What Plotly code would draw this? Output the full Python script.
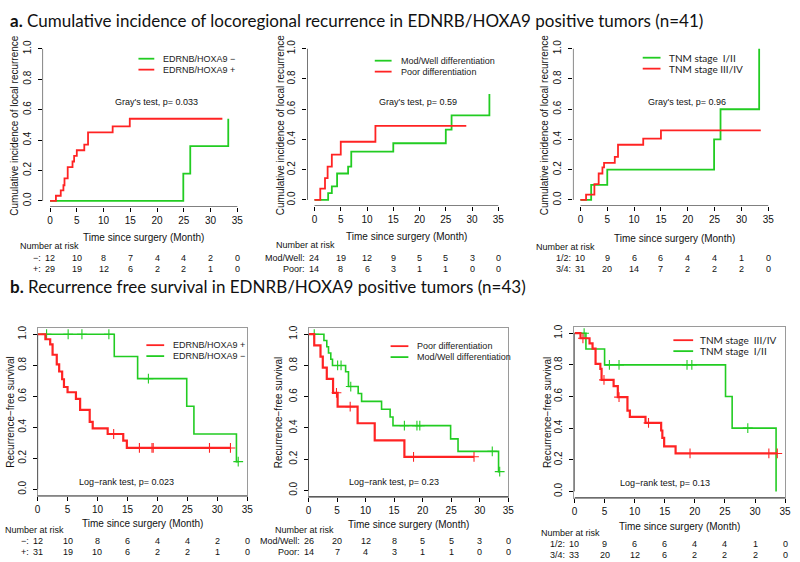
import plotly.graph_objects as go

W, H = 800, 562

# ---------------- data ----------------
# Panel a1: cumulative incidence, EDNRB/HOXA9 status
a1_neg_t = [0, 24.9, 26.2, 33.3]
a1_neg_v = [0, 0.18, 0.36, 0.54]
a1_pos_t = [0, 1.1, 2.0, 2.5, 2.7, 3.3, 4.2, 4.5, 5.0, 6.4, 7.1, 11.7, 14.9, 32.2]
a1_pos_v = [0, 0.034, 0.069, 0.103, 0.148, 0.222, 0.259, 0.296, 0.333, 0.37, 0.45, 0.49, 0.54, 0.54]

# Panel a2: differentiation
a2_mw_t = [0, 2.6, 3.3, 4.3, 6.4, 7.0, 15.0, 25.0, 26.1, 33.3]
a2_mw_v = [0, 0.045, 0.09, 0.175, 0.22, 0.32, 0.375, 0.465, 0.56, 0.70]
a2_poor_t = [0, 1.1, 2.0, 2.5, 3.3, 5.0, 11.6, 28.9]
a2_poor_v = [0, 0.075, 0.145, 0.22, 0.30, 0.385, 0.49, 0.49]

# Panel a3: TNM stage
a3_s12_t = [0, 2.0, 5.0, 24.9, 26.1, 33.3]
a3_s12_v = [0, 0.10, 0.20, 0.40, 0.60, 1.0]
a3_s34_t = [0, 1.05, 2.6, 3.4, 4.1, 4.4, 6.4, 7.0, 11.7, 15.0, 33.6]
a3_s34_v = [0, 0.035, 0.105, 0.175, 0.215, 0.245, 0.285, 0.365, 0.405, 0.46, 0.46]

# Panel b1: recurrence-free survival, EDNRB/HOXA9 status
b1_pos_t = [0, 1.3, 2.1, 2.5, 3.2, 3.6, 4.1, 4.4, 5.0, 6.4, 7.1, 8.7, 9.2, 11.7, 14.3, 14.9, 32.2]
b1_pos_v = [1, 0.968, 0.935, 0.868, 0.806, 0.76, 0.71, 0.66, 0.626, 0.584, 0.512, 0.435, 0.393, 0.357, 0.314, 0.267, 0.267]
b1_pos_ct = [12.7, 17.0, 19.1, 19.3, 28.7, 32.2]
b1_pos_cv = [0.357, 0.267, 0.267, 0.267, 0.267, 0.267]
b1_neg_t = [0, 12.8, 16.7, 24.9, 26.1, 33.2, 33.5]
b1_neg_v = [1, 0.857, 0.714, 0.536, 0.357, 0.179, 0.179]
b1_neg_ct = [1.5, 5.1, 7.4, 11.9, 18.5, 33.5]
b1_neg_cv = [1, 1, 1, 1, 0.714, 0.179]

# Panel b2: differentiation
b2_poor_t = [0, 1.0, 2.1, 2.5, 3.2, 4.3, 5.1, 8.6, 11.6, 16.8, 29.0]
b2_poor_v = [1, 0.929, 0.857, 0.786, 0.714, 0.625, 0.536, 0.43, 0.32, 0.215, 0.215]
b2_poor_ct = [4.9, 7.3, 18.4, 29.0]
b2_poor_cv = [0.625, 0.536, 0.215, 0.215]
b2_mw_t = [0, 2.7, 3.2, 3.5, 3.9, 4.2, 6.5, 7.0, 8.7, 9.3, 12.8, 14.3, 14.8, 24.9, 26.2, 33.3, 33.5]
b2_mw_v = [1, 0.96, 0.92, 0.88, 0.84, 0.80, 0.76, 0.665, 0.62, 0.57, 0.52, 0.47, 0.415, 0.33, 0.25, 0.12, 0.12]
b2_mw_ct = [1.0, 5.1, 5.7, 7.4, 16.8, 19.0, 19.5, 32.2, 33.5]
b2_mw_cv = [1, 0.80, 0.80, 0.665, 0.415, 0.415, 0.415, 0.25, 0.12]

# Panel b3: TNM stage
b3_s34_t = [0, 1.0, 2.5, 3.0, 3.5, 4.3, 4.5, 6.5, 7.2, 8.8, 9.2, 11.8, 14.4, 14.6, 14.9, 16.8, 33.7]
b3_s34_v = [1, 0.968, 0.935, 0.903, 0.806, 0.774, 0.705, 0.666, 0.596, 0.511, 0.471, 0.433, 0.385, 0.338, 0.285, 0.24, 0.24]
b3_s34_ct = [1.4, 4.9, 7.4, 12.3, 19.2, 32.3, 33.7]
b3_s34_cv = [0.968, 0.705, 0.596, 0.433, 0.24, 0.24, 0.24]
b3_s12_t = [0, 1.9, 5.0, 25.1, 26.2, 33.5]
b3_s12_v = [1, 0.9, 0.8, 0.6, 0.4, 0.0]
b3_s12_ct = [1.6, 5.8, 7.4, 18.7, 19.5, 28.8]
b3_s12_cv = [1, 0.8, 0.8, 0.8, 0.8, 0.4]

# Numbers at risk (at months 0,5,...,35)
risk_times = [0, 5, 10, 15, 20, 25, 30, 35]
a1_risk_labels = ["−:", "+:"]
a1_risk = [[12, 10, 8, 7, 4, 4, 2, 0], [29, 19, 12, 6, 2, 2, 1, 0]]
a2_risk_labels = ["Mod/Well:", "Poor:"]
a2_risk = [[24, 19, 12, 9, 5, 5, 3, 0], [14, 8, 6, 3, 1, 1, 0, 0]]
a3_risk_labels = ["1/2:", "3/4:"]
a3_risk = [[10, 9, 6, 6, 4, 4, 1, 0], [31, 20, 14, 7, 2, 2, 2, 0]]
b1_risk_labels = ["−:", "+:"]
b1_risk = [[12, 10, 8, 6, 4, 4, 2, 0], [31, 19, 10, 6, 2, 2, 1, 0]]
b2_risk_labels = ["Mod/Well:", "Poor:"]
b2_risk = [[26, 20, 12, 8, 5, 5, 3, 0], [14, 7, 4, 3, 1, 1, 0, 0]]
b3_risk_labels = ["1/2:", "3/4:"]
b3_risk = [[10, 9, 6, 6, 4, 4, 1, 0], [33, 20, 12, 6, 2, 2, 2, 0]]

x_ticks = [0, 5, 10, 15, 20, 25, 30, 35]
y_ticks = [0, 0.2, 0.4, 0.6, 0.8, 1.0]

title_a = "<b>a.</b> Cumulative incidence of locoregional recurrence in EDNRB/HOXA9 positive tumors (n=41)"
title_b = "<b>b.</b> Recurrence free survival in EDNRB/HOXA9 positive tumors (n=43)"
ylab_a = "Cumulative incidence of local recurrence"
ylab_b = "Recurrence−free survival"
xlab = "Time since surgery (Month)"

# ---------------- styles ----------------
RED = "#ff2323"
GREEN = "#22cc22"
RFONT = "Liberation Sans, Arial, sans-serif"
CFONT = "Lato, Carlito, sans-serif"


def px(x):
    return x / W


def py(y):
    return 1 - y / H


panels = [
    dict(kind="a", dom_x=(40, 244.6), dom_y=(205.1, 39.9),
         curves=[(a1_neg_t, a1_neg_v, GREEN, None, None), (a1_pos_t, a1_pos_v, RED, None, None)],
         legend=[("EDRNB/HOXA9 −", GREEN), ("EDRNB/HOXA9 +", RED)], leg=(137, 153, 160, 56, RFONT, 9),
         test="Gray's test, p= 0.033", test_pos=(155, 100),
         risk_labels=a1_risk_labels, risk=a1_risk, nar=(15, 244), rows=(256, 267), xt=236, ylx=12),
    dict(kind="a", dom_x=(307.6, 508.4), dom_y=(204.1, 39.9),
         curves=[(a2_mw_t, a2_mw_v, GREEN, None, None), (a2_poor_t, a2_poor_v, RED, None, None)],
         legend=[("Mod/Well differentiation", GREEN), ("Poor differentiation", RED)], leg=(376, 393, 400, 58, RFONT, 9),
         test="Gray's test, p= 0.59", test_pos=(420, 100),
         risk_labels=a2_risk_labels, risk=a2_risk, nar=(274, 243), rows=(256, 267), xt=235, ylx=280),
    dict(kind="a", dom_x=(576.4, 781.6), dom_y=(204.1, 39.9),
         curves=[(a3_s12_t, a3_s12_v, GREEN, None, None), (a3_s34_t, a3_s34_v, RED, None, None)],
         legend=[("TNM stage  I/II", GREEN), ("TNM stage III/IV", RED)], leg=(647, 665, 672, 55, CFONT, 10),
         test="Gray's test, p= 0.96", test_pos=(692, 100),
         risk_labels=a3_risk_labels, risk=a3_risk, nar=(537, 245), rows=(256, 267), xt=237, ylx=548),
    dict(kind="b", dom_x=(35, 247), dom_y=(495.2, 326.8),
         curves=[(b1_neg_t, b1_neg_v, GREEN, b1_neg_ct, b1_neg_cv), (b1_pos_t, b1_pos_v, RED, b1_pos_ct, b1_pos_cv)],
         legend=[("EDRNB/HOXA9 +", RED), ("EDRNB/HOXA9 −", GREEN)], leg=(145, 163, 170, 344, RFONT, 9),
         test="Log−rank test, p= 0.023", test_pos=(125, 482),
         risk_labels=b1_risk_labels, risk=b1_risk, nar=(0, 530), rows=(541, 552), xt=523, ylx=8),
    dict(kind="b", dom_x=(309, 511), dom_y=(496.3, 326.7),
         curves=[(b2_mw_t, b2_mw_v, GREEN, b2_mw_ct, b2_mw_cv), (b2_poor_t, b2_poor_v, RED, b2_poor_ct, b2_poor_cv)],
         legend=[("Poor differentiation", RED), ("Mod/Well differentiation", GREEN)], leg=(392, 410, 417, 345, RFONT, 9),
         test="Log−rank test, p= 0.23", test_pos=(395, 482),
         risk_labels=b2_risk_labels, risk=b2_risk, nar=(273, 530), rows=(541, 552), xt=524, ylx=278),
    dict(kind="b", dom_x=(578, 791), dom_y=(497.4, 325.6),
         curves=[(b3_s12_t, b3_s12_v, GREEN, b3_s12_ct, b3_s12_cv), (b3_s34_t, b3_s34_v, RED, b3_s34_ct, b3_s34_cv)],
         legend=[("TNM stage  III/IV", RED), ("TNM stage  I/II", GREEN)], leg=(678, 698, 703, 339, CFONT, 10),
         test="Log−rank test, p= 0.13", test_pos=(670, 483),
         risk_labels=b3_risk_labels, risk=b3_risk, nar=(542, 533), rows=(544, 555), xt=526, ylx=550),
]

fig = go.Figure()
shapes = []
annotations = []
layout = {}

for i, p in enumerate(panels):
    n = i + 1
    xa = "x" if n == 1 else f"x{n}"
    ya = "y" if n == 1 else f"y{n}"
    xkey = "xaxis" if n == 1 else f"xaxis{n}"
    ykey = "yaxis" if n == 1 else f"yaxis{n}"
    is_a = p["kind"] == "a"
    xr = [-1.4, 36.4] if is_a else [0, 35]
    yr = [-0.04, 1.04]
    box = dict(showline=True, mirror=True, linecolor="#9a9a9a", linewidth=1) if not is_a else dict(showline=False)
    layout[xkey] = dict(domain=[px(p["dom_x"][0]), px(p["dom_x"][1])], range=xr, anchor=ya,
                        tickvals=x_ticks, ticks="outside", ticklen=4, tickcolor="black",
                        showgrid=False, zeroline=False, fixedrange=True,
                        tickfont=dict(family=RFONT, size=10, color="#111"), **box)
    layout[ykey] = dict(domain=[py(p["dom_y"][0]), py(p["dom_y"][1])], range=yr, anchor=xa,
                        tickvals=y_ticks, tickformat=".1f", ticks="outside", ticklen=4, tickcolor="black",
                        tickangle=-90, showgrid=False, zeroline=False, fixedrange=True,
                        ticklabelstandoff=3,
                        tickfont=dict(family=RFONT, size=10, color="#111"), **box)
    # R-style axis lines
    shapes.append(dict(type="line", xref=xa, yref=ya, x0=xr[0], x1=xr[0], y0=0, y1=1,
                       line=dict(color="black", width=1), layer="above"))
    shapes.append(dict(type="line", xref=xa, yref=ya, x0=0, x1=35, y0=-0.04, y1=-0.04,
                       line=dict(color="black", width=1), layer="above"))

    for (t, v, col, ct, cv) in p["curves"]:
        lw = 1.8 if is_a else (2.2 if col == RED else 1.6)
        fig.add_trace(go.Scatter(x=t, y=v, mode="lines", line=dict(color=col, width=lw, shape="hv"),
                                 xaxis=xa, yaxis=ya, showlegend=False, hoverinfo="skip"))
        if ct is not None:
            fig.add_trace(go.Scatter(x=ct, y=cv, mode="markers",
                                     marker=dict(symbol="cross-thin", size=7, line=dict(color=col, width=1.1)),
                                     xaxis=xa, yaxis=ya, showlegend=False, hoverinfo="skip"))

    # legend (drawn manually to match the R style)
    lx0, lx1, tx, ly, lfont, lsize = p["leg"]
    for k, (lab, col) in enumerate(p["legend"]):
        yy = ly + k * 11
        shapes.append(dict(type="line", xref="paper", yref="paper", x0=px(lx0), x1=px(lx1), y0=py(yy), y1=py(yy),
                           line=dict(color=col, width=1.8)))
        annotations.append(dict(text=lab, x=px(tx), y=py(yy), xref="paper", yref="paper", xanchor="left",
                                yanchor="middle", showarrow=False, font=dict(family=lfont, size=lsize, color="#222")))

    # test text
    annotations.append(dict(text=p["test"], x=px(p["test_pos"][0]), y=py(p["test_pos"][1]), xref="paper", yref="paper",
                            xanchor="center", yanchor="middle", showarrow=False,
                            font=dict(family=RFONT, size=9, color="#111")))
    # axis titles
    annotations.append(dict(text=xlab, x=17.5, xref=xa,
                            y=py(p["xt"]), yref="paper", xanchor="center", yanchor="middle",
                            showarrow=False, font=dict(family=RFONT, size=10, color="#111")))
    ymid = (p["dom_y"][0] + p["dom_y"][1]) / 2
    annotations.append(dict(text=ylab_a if is_a else ylab_b, x=px(p["ylx"]), y=py(ymid), xref="paper", yref="paper",
                            xanchor="center", yanchor="middle", textangle=-90, showarrow=False,
                            font=dict(family=RFONT, size=10, color="#111")))
    # numbers at risk
    annotations.append(dict(text="Number at risk", x=px(p["nar"][0]), y=py(p["nar"][1]), xref="paper", yref="paper",
                            xanchor="left", yanchor="middle", showarrow=False,
                            font=dict(family=RFONT, size=9, color="#111")))
    for r, (lab, vals) in enumerate(zip(p["risk_labels"], p["risk"])):
        yy = p["rows"][r]
        annotations.append(dict(text=lab, x=0, xref=xa, y=py(yy), yref="paper", xanchor="right", yanchor="middle",
                                xshift=-7, showarrow=False, font=dict(family=RFONT, size=9, color="#111")))
        for tt, vv in zip(risk_times, vals):
            annotations.append(dict(text=str(vv), x=tt, xref=xa, y=py(yy), yref="paper", xanchor="center",
                                    yanchor="middle", showarrow=False, font=dict(family=RFONT, size=9, color="#111")))

# headings
annotations.append(dict(text=title_a, x=px(5), y=py(18), xref="paper", yref="paper", xanchor="left", yanchor="middle",
                        showarrow=False, font=dict(family=CFONT, size=17, color="#111")))
annotations.append(dict(text=title_b, x=px(5), y=py(285), xref="paper", yref="paper", xanchor="left", yanchor="middle",
                        showarrow=False, font=dict(family=CFONT, size=17, color="#111")))

fig.update_layout(width=W, height=H, margin=dict(l=0, r=0, t=0, b=0), paper_bgcolor="white", plot_bgcolor="white",
                  showlegend=False, shapes=shapes, annotations=annotations, **layout)

fig.write_html("out.html", config={"displayModeBar": False},
               post_script="document.body.style.margin='0';document.body.style.overflow='hidden';")
